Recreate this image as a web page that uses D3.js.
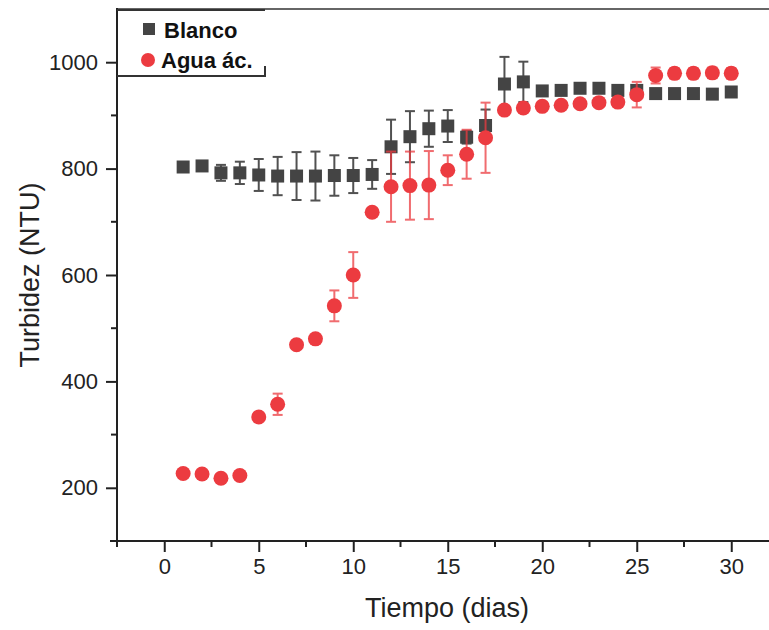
<!DOCTYPE html>
<html>
<head>
<meta charset="utf-8">
<style>
    body { margin: 0; background: #fff; }
    svg { display: block; font-family: "Liberation Sans", Arial, sans-serif; }
</style>
</head>
<body>
<svg id="chart" width="769" height="630"></svg>
<script src="https://cdnjs.cloudflare.com/ajax/libs/d3/7.8.5/d3.min.js"></script>
<script>
    // data
    var days = [1,2,3,4,5,6,7,8,9,10,11,12,13,14,15,16,17,18,19,20,21,22,23,24,25,26,27,28,29,30];
    var blanco = [803,805,792,792,788,786,786,786,787,787,789,841,860,875,880,859,881,959,963,946,947,951,951,947,947,941,941,941,940,944];
    var blancoErr = [0,0,15,21,30,36,45,46,38,33,27,51,48,34,30,12,30,51,38,6,5,6,6,6,8,5,5,5,5,5];
    var agua = [227,226,218,223,333,357,469,480,542,600,718,766,768,769,797,827,858,910,914,917,919,922,924,925,939,975,979,979,980,979];
    var aguaErr = [0,0,8,0,0,20,0,0,29,43,8,66,64,64,28,46,66,5,5,5,5,5,5,6,24,15,10,10,10,10];
    var xTicks = [0,5,10,15,20,25,30];
    var yTicks = [200,400,600,800,1000];

    var svg = d3.select('#chart');
    var plotLeft = 117, plotTop = 9, plotBottom = 541;

    var x = d3.scaleLinear().domain([-2.5, 33]).range([plotLeft, plotLeft + 35.5 * 18.9]);
    var y = d3.scaleLinear().domain([100, 1100]).range([plotBottom, plotTop]);

    var greyC = '#444444', redC = '#ec3b40';

    // top frame line
    svg.append('line').attr('x1', plotLeft).attr('x2', 769).attr('y1', plotTop).attr('y2', plotTop)
        .attr('stroke', '#666').attr('stroke-width', 2);

    // x axis
    var xAxis = svg.append('g').attr('transform', 'translate(0,' + plotBottom + ')')
        .call(d3.axisBottom(x).tickValues(xTicks).tickSize(11).tickPadding(6).tickFormat(d3.format('d')));
    xAxis.select('.domain').remove();
    xAxis.selectAll('.tick line').attr('stroke', '#222').attr('stroke-width', 2);
    xAxis.selectAll('.tick text').attr('font-size', 22).attr('fill', '#222')
        .attr('font-family', '"Liberation Sans", Arial, sans-serif');
    var xMinor = d3.range(-2.5, 33, 5);
    xAxis.selectAll('.minor').data(xMinor).enter().append('line')
        .attr('x1', d => x(d)).attr('x2', d => x(d)).attr('y1', 0).attr('y2', 6)
        .attr('stroke', '#222').attr('stroke-width', 2);
    svg.append('line').attr('x1', plotLeft - 7).attr('x2', 769).attr('y1', plotBottom).attr('y2', plotBottom)
        .attr('stroke', '#222').attr('stroke-width', 2);

    // y axis
    var yAxis = svg.append('g').attr('transform', 'translate(' + plotLeft + ',0)')
        .call(d3.axisLeft(y).tickValues(yTicks).tickSize(11).tickPadding(8).tickFormat(d3.format('d')));
    yAxis.select('.domain').remove();
    yAxis.selectAll('.tick line').attr('stroke', '#222').attr('stroke-width', 2);
    yAxis.selectAll('.tick text').attr('font-size', 22).attr('fill', '#222')
        .attr('font-family', '"Liberation Sans", Arial, sans-serif');
    var yMinor = [100, 300, 500, 700, 900];
    yAxis.selectAll('.minor').data(yMinor).enter().append('line')
        .attr('x1', 0).attr('x2', -6).attr('y1', d => y(d)).attr('y2', d => y(d))
        .attr('stroke', '#222').attr('stroke-width', 2);
    svg.append('line').attr('x1', plotLeft).attr('x2', plotLeft).attr('y1', plotTop - 1).attr('y2', plotBottom + 6)
        .attr('stroke', '#222').attr('stroke-width', 2);

    // axis titles
    svg.append('text').attr('x', 447).attr('y', 617).attr('text-anchor', 'middle')
        .attr('font-size', 27).attr('fill', '#222').text('Tiempo (dias)');
    svg.append('text').attr('transform', 'translate(39,275) rotate(-90)').attr('text-anchor', 'middle')
        .attr('font-size', 27).attr('fill', '#222').text('Turbidez (NTU)');

    // error bars + markers
    function errBars(vals, errs, color, opacity) {
        var g = svg.append('g').attr('stroke', color).attr('stroke-width', 2).attr('opacity', opacity);
        days.forEach(function (d, i) {
            if (!errs[i]) return;
            var cx = x(d), y1 = y(vals[i] - errs[i]), y2 = y(vals[i] + errs[i]);
            g.append('line').attr('x1', cx).attr('x2', cx).attr('y1', y1).attr('y2', y2);
            g.append('line').attr('x1', cx - 5).attr('x2', cx + 5).attr('y1', y1).attr('y2', y1);
            g.append('line').attr('x1', cx - 5).attr('x2', cx + 5).attr('y1', y2).attr('y2', y2);
        });
    }

    errBars(blanco, blancoErr, '#333', 0.85);
    svg.append('g').selectAll('rect').data(days).enter().append('rect')
        .attr('x', (d) => x(d) - 6.5).attr('y', (d, i) => y(blanco[i]) - 6.5)
        .attr('width', 13).attr('height', 13).attr('fill', greyC);

    errBars(agua, aguaErr, redC, 0.75);
    svg.append('g').selectAll('circle').data(days).enter().append('circle')
        .attr('cx', (d) => x(d)).attr('cy', (d, i) => y(agua[i]))
        .attr('r', 7.5).attr('fill', redC);

    // legend
    var lg = svg.append('g');
    lg.append('line').attr('x1', plotLeft).attr('x2', 265).attr('y1', 76).attr('y2', 76)
        .attr('stroke', '#333').attr('stroke-width', 2);
    lg.append('line').attr('x1', 265).attr('x2', 265).attr('y1', 66).attr('y2', 77)
        .attr('stroke', '#333').attr('stroke-width', 2);
    lg.append('line').attr('x1', plotLeft).attr('x2', 265).attr('y1', plotTop + 1).attr('y2', plotTop + 1)
        .attr('stroke', '#333').attr('stroke-width', 2);
    lg.append('rect').attr('x', 143).attr('y', 23).attr('width', 12).attr('height', 12).attr('fill', greyC);
    lg.append('circle').attr('cx', 148).attr('cy', 60).attr('r', 7).attr('fill', redC);
    lg.append('text').attr('x', 164).attr('y', 38).attr('font-size', 22).attr('font-weight', 'bold')
        .attr('fill', '#111').text('Blanco');
    lg.append('text').attr('x', 161).attr('y', 68).attr('font-size', 22).attr('font-weight', 'bold')
        .attr('fill', '#111').text('Agua ác.');
</script>
</body>
</html>
